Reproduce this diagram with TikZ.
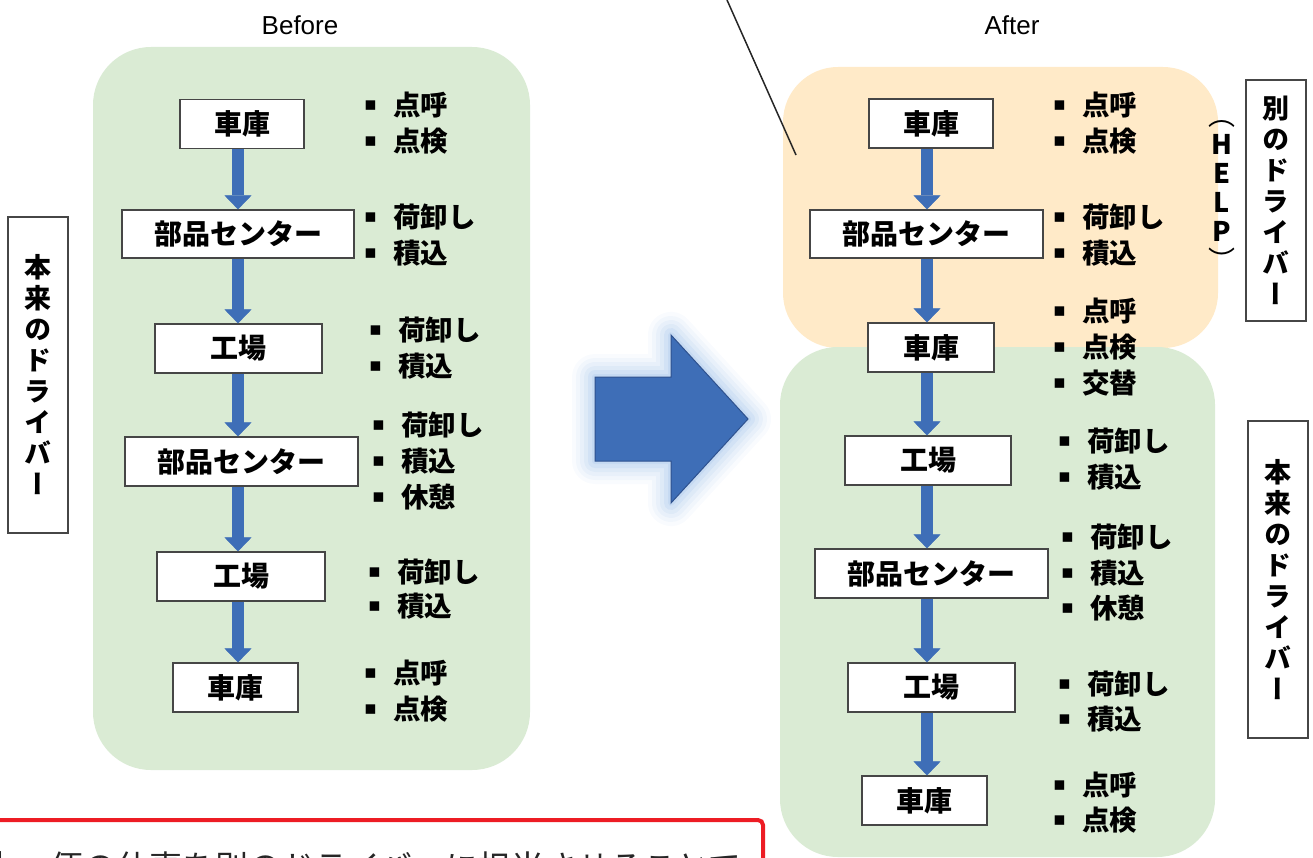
\documentclass[tikz,border=0pt]{standalone}
\usepackage{fontspec}
\setmainfont{Noto Sans CJK JP}
\newfontfamily\jpv{Noto Sans CJK JP}[RawFeature=+vert]
\newfontfamily\lat{Liberation Sans}
\newfontfamily\dv{DejaVu Sans}
\usetikzlibrary{arrows.meta}
\definecolor{lgreen}{RGB}{218,235,212}
\definecolor{lorange}{RGB}{255,234,200}
\definecolor{ablue}{RGB}{62,110,183}
\definecolor{bblue}{RGB}{47,82,143}
\definecolor{glowc}{RGB}{140,180,228}
\definecolor{boxline}{RGB}{70,70,70}
\definecolor{redc}{RGB}{237,28,36}
\tikzset{
 stepbox/.style={draw=boxline, line width=1.2pt, fill=white, inner sep=0pt, minimum height=49pt, font=\bfseries\fontsize{28}{28}\selectfont},
 flow/.style={draw=ablue, line width=12pt, -{Triangle[length=14pt 0 0, width=27pt 0 0, line width=0.4pt 0 0]}},
 bul/.style={anchor=west, inner sep=0pt, font=\bfseries\fontsize{27.5}{27.5}\selectfont},
 vlabel/.style={draw=boxline, line width=1.2pt, fill=white, inner sep=0pt, align=center, font=\jpv\bfseries\fontsize{27}{31}\selectfont},
 zone/.style={rounded corners=58pt},
 title/.style={font=\lat\fontsize{26}{26}\selectfont, inner sep=0pt},
}
\newcommand\sqbul{\makebox[27.5pt]{\raisebox{5pt}{\dv\fontsize{19}{19}\selectfont ▪}}}
\newcommand\bitem[4]{\node[bul] (#1) at ({#2-36.5},#3) {\sqbul\hspace{9pt}#4};}
\begin{document}
\begin{tikzpicture}[x=1pt,y=-1pt]
\path[use as bounding box] (0,0) rectangle (1313,858);
\clip (0,0) rectangle (1313,858);
% zones
\fill[lgreen, zone] (93,47) rectangle (530,770);
\fill[lorange, rounded corners=55pt] (783,67) rectangle (1218,348);
\fill[lgreen, zone] (780,347) rectangle (1215,857);
% titles
\node[title] (before) at (300,25) {Before};
\node[title] (after) at (1012,25) {After};
% pointer line
\coordinate (ls) at (727,0);
\coordinate (le) at (796,155);
\draw[line width=1.5pt, black!85] (ls) -- (le);
% vertical labels
\node[vlabel, minimum width=60pt, minimum height=316pt] (lv) at (38,375) {本\\来\\の\\ド\\ラ\\イ\\バ\\ー};
\node[vlabel, minimum width=60pt, minimum height=241pt] (rv1) at (1276,200.5) {別\\の\\ド\\ラ\\イ\\バ\\ー};
\node[vlabel, minimum width=60pt, minimum height=317pt] (rv2) at (1278,579.5) {本\\来\\の\\ド\\ラ\\イ\\バ\\ー};
\node[inner sep=0pt, align=center, font=\jpv\bfseries\fontsize{27}{29}\selectfont] (help) at (1222,196) {{\mdseries （}\\H\\E\\L\\P\\{\mdseries ）}};
% left flow
\node[stepbox, minimum width=124pt] (L1) at (242,124) {車庫};
\node[stepbox, minimum width=232pt, minimum height=48pt] (L2) at (238,234) {部品センター};
\node[stepbox, minimum width=167pt] (L3) at (238.5,348.5) {工場};
\node[stepbox, minimum width=233pt] (L4) at (241.5,461.5) {部品センター};
\node[stepbox, minimum width=168pt] (L5) at (241,576.5) {工場};
\node[stepbox, minimum width=125pt] (L6) at (235.5,687.5) {車庫};
\coordinate (lax) at (238,0);
\draw[flow] (L1.south -| lax) -- (L2.north -| lax);
\draw[flow] (L2.south -| lax) -- (L3.north -| lax);
\draw[flow] (L3.south -| lax) -- (L4.north -| lax);
\draw[flow] (L4.south -| lax) -- (L5.north -| lax);
\draw[flow] (L5.south -| lax) -- (L6.north -| lax);
% right flow
\node[stepbox, minimum width=124pt] (R1) at (931,123.5) {車庫};
\node[stepbox, minimum width=233pt, minimum height=48pt] (R2) at (926.5,234) {部品センター};
\node[stepbox, minimum width=126pt] (R3) at (931,347.5) {車庫};
\node[stepbox, minimum width=166pt] (R4) at (928,460.5) {工場};
\node[stepbox, minimum width=233pt] (R5) at (931.5,573.5) {部品センター};
\node[stepbox, minimum width=167pt] (R6) at (931.5,687.5) {工場};
\node[stepbox, minimum width=125pt] (R7) at (924.5,800.5) {車庫};
\coordinate (rax) at (927,0);
\draw[flow] (R1.south -| rax) -- (R2.north -| rax);
\draw[flow] (R2.south -| rax) -- (R3.north -| rax);
\draw[flow] (R3.south -| rax) -- (R4.north -| rax);
\draw[flow] (R4.south -| rax) -- (R5.north -| rax);
\draw[flow] (R5.south -| rax) -- (R6.north -| rax);
\draw[flow] (R6.south -| rax) -- (R7.north -| rax);
% left bullets
\bitem{la1}{393}{105}{点呼}
\bitem{la2}{393}{141}{点検}
\bitem{lb1}{393}{217}{荷卸し}
\bitem{lb2}{393}{253}{積込}
\bitem{lc1}{398}{330}{荷卸し}
\bitem{lc2}{398}{366}{積込}
\bitem{ld1}{401}{425}{荷卸し}
\bitem{ld2}{401}{461}{積込}
\bitem{ld3}{401}{497}{休憩}
\bitem{le1}{397}{572}{荷卸し}
\bitem{le2}{397}{606}{積込}
\bitem{lf1}{393}{673}{点呼}
\bitem{lf2}{393}{709}{点検}
% right bullets
\bitem{ra1}{1082}{105}{点呼}
\bitem{ra2}{1082}{141}{点検}
\bitem{rb1}{1082}{217}{荷卸し}
\bitem{rb2}{1082}{253}{積込}
\bitem{rc1}{1082}{311}{点呼}
\bitem{rc2}{1082}{347}{点検}
\bitem{rc3}{1082}{383}{交替}
\bitem{rd1}{1087}{441}{荷卸し}
\bitem{rd2}{1087}{477}{積込}
\bitem{re1}{1090}{537}{荷卸し}
\bitem{re2}{1090}{573}{積込}
\bitem{re3}{1090}{608}{休憩}
\bitem{rf1}{1087}{684}{荷卸し}
\bitem{rf2}{1087}{719}{積込}
\bitem{rg1}{1082}{785}{点呼}
\bitem{rg2}{1082}{820}{点検}
% big arrow with glow
\foreach \w/\o in {46/0.05,38/0.07,30/0.09,22/0.11,14/0.14,6/0.18}{
 \draw[glowc, line width=\w pt, opacity=\o, line join=round] (595,377) -- (671,377) -- (671,335) -- (748,419) -- (671,503) -- (671,461) -- (595,461) -- cycle;
}
\filldraw[fill=ablue, draw=bblue, line width=1pt] (595,377) -- (671,377) -- (671,335) -- (748,419) -- (671,503) -- (671,461) -- (595,461) -- cycle;
% bottom red box
\draw[redc, line width=4pt, rounded corners=5pt] (-10,820) rectangle (763,900);
\node[anchor=base west, inner sep=0pt, font=\fontsize{33}{33}\selectfont, text=black!85] (cap) at (-10,879) {】\hspace{27pt}便の仕事を別のドライバーに担当させることで};
\end{tikzpicture}
\end{document}
